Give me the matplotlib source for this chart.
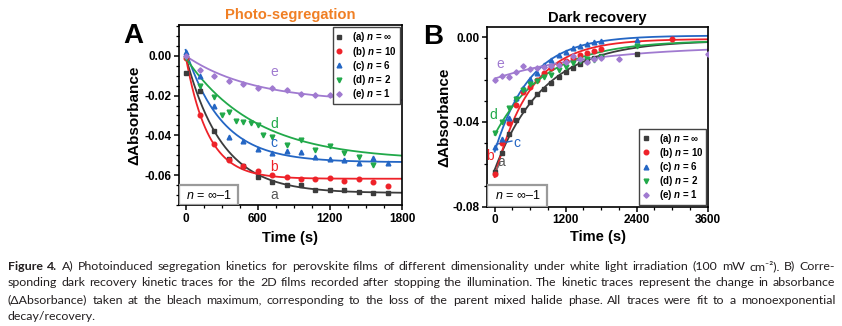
import numpy as np
import matplotlib
matplotlib.use('Agg')
import matplotlib.pyplot as plt
from matplotlib.patches import Rectangle
from matplotlib.ticker import AutoMinorLocator, FormatStrFormatter

plt.rcParams['font.family'] = ['Liberation Sans', 'DejaVu Sans']
plt.rcParams['mathtext.fontset'] = 'custom'
plt.rcParams['mathtext.it'] = 'Liberation Sans:italic'
plt.rcParams['mathtext.bf'] = 'Liberation Sans:italic:bold'
plt.rcParams['mathtext.rm'] = 'Liberation Sans'
plt.rcParams['axes.unicode_minus'] = False

# ---- panel A: photo-segregation under illumination ----
t_seg = [0, 120, 240, 360, 480, 600, 720, 840, 960, 1080, 1200, 1320, 1440, 1560, 1680]
t_seg_d = [0, 120, 240, 300, 360, 420, 480, 540, 600, 640, 720, 840, 960, 1080, 1200, 1320, 1440, 1560]
seg_a = [-0.0085, -0.0175, -0.0378, -0.0518, -0.0553, -0.0608, -0.0636, -0.0648, -0.0648,
         -0.0675, -0.0675, -0.0676, -0.0683, -0.0690, -0.0690]
seg_b = [-0.0010, -0.0300, -0.0442, -0.0525, -0.0556, -0.0578, -0.0597, -0.0607, -0.0617,
         -0.0617, -0.0612, -0.0627, -0.0620, -0.0632, -0.0652]
seg_c = [0.0017, -0.0100, -0.0250, -0.0410, -0.0430, -0.0470, -0.0488, -0.0480, -0.0485,
         -0.0511, -0.0518, -0.0525, -0.0538, -0.0515, -0.0538]
seg_d = [-0.0010, -0.0150, -0.0205, -0.0295, -0.0280, -0.0328, -0.0332, -0.0340, -0.0350,
         -0.0398, -0.0408, -0.0450, -0.0421, -0.0471, -0.0454, -0.0488, -0.0510, -0.0548]
seg_e = [0.0000, -0.0072, -0.0102, -0.0125, -0.0140, -0.0162, -0.0163, -0.0173, -0.0190,
         -0.0199, -0.0196, -0.0208, -0.0207, -0.0213, -0.0227]
# monoexponential fits: (start, plateau, tau in s)
seg_fits = [(0.0, -0.0690, 300), (0.0, -0.0618, 185), (0.003, -0.0535, 300),
            (-0.001, -0.0525, 580), (0.0, -0.0232, 560)]

# ---- panel B: dark recovery ----
t_rec = [0, 120, 240, 360, 480, 600, 720, 840, 960, 1080, 1200, 1320, 1440, 1560, 1680, 1800]
t_rec_a = t_rec + [2400]
t_rec_b = t_rec + [3000]
t_rec_c = t_rec + [2400]
t_rec_d = t_rec + [2400]
t_rec_e = t_rec + [2100, 3600]
rec_a = [-0.0638, -0.0545, -0.0459, -0.0393, -0.0345, -0.0306, -0.0269, -0.0242, -0.0216,
         -0.0190, -0.0165, -0.0145, -0.0128, -0.0113, -0.0100, -0.0090, -0.0081]
rec_b = [-0.0645, -0.0500, -0.0405, -0.0320, -0.0258, -0.0237, -0.0202, -0.0167, -0.0147,
         -0.0128, -0.0112, -0.0097, -0.0084, -0.0073, -0.0065, -0.0057, -0.0009]
rec_c = [-0.0518, -0.0480, -0.0380, -0.0285, -0.0240, -0.0195, -0.0171, -0.0130, -0.0107,
         -0.0084, -0.0068, -0.0052, -0.0041, -0.0033, -0.0024, -0.0016, -0.0013]
rec_d = [-0.0452, -0.0400, -0.0332, -0.0290, -0.0247, -0.0223, -0.0207, -0.0186, -0.0179,
         -0.0155, -0.0139, -0.0123, -0.0112, -0.0104, -0.0107, -0.0095, -0.0040]
rec_e = [-0.0200, -0.0183, -0.0186, -0.0165, -0.0135, -0.0148, -0.0147, -0.0142, -0.0135,
         -0.0130, -0.0118, -0.0088, -0.0105, -0.0115, -0.0104, -0.0100, -0.0104, -0.0081]
rec_fits = [(-0.0625, -0.0015, 830), (-0.0660, -0.0008, 600), (-0.0540, 0.0008, 600),
            (-0.0460, -0.0015, 850), (-0.0195, -0.0040, 1700)]

series_tags = ['a', 'b', 'c', 'd', 'e']
legend_labels = [r'(a) $\mathbf{n}$ = ∞', r'(b) $\mathbf{n}$ = 10', r'(c) $\mathbf{n}$ = 6',
                 r'(d) $\mathbf{n}$ = 2', r'(e) $\mathbf{n}$ = 1']
colors = ['#3c3c3c', '#ee2229', '#2466c4', '#21a94a', '#a07ad0']
markers = ['s', 'o', '^', 'v', 'D']
marker_sizes = [3.0, 3.3, 3.4, 3.4, 2.7]

caption_lines = [
    [('Figure', True), ('4.', True), ('A)', False)] + [(w, False) for w in
     'Photoinduced segregation kinetics for perovskite films of different dimensionality '
     'under white light irradiation (100 mW cm⁻²). B) Corre-'.split()],
    [(w, False) for w in 'sponding dark recovery kinetic traces for the 2D films recorded after '
     'stopping the illumination. The kinetic traces represent the change in absorbance'.split()],
    [(w, False) for w in '(ΔAbsorbance) taken at the bleach maximum, corresponding to the loss of '
     'the parent mixed halide phase. All traces were fit to a monoexponential'.split()],
    [(w, False) for w in 'decay/recovery.'.split()],
]

W, H = 842, 326


def mono_exp(t, start, plateau, tau):
    return plateau + (start - plateau) * np.exp(-t / tau)


def draw_panel(ax, times, values, fits, tmax):
    for i in range(5):
        ax.plot(times[i], values[i], ls='none', marker=markers[i], ms=marker_sizes[i],
                color=colors[i], label=legend_labels[i], zorder=3)
        tt = np.linspace(0, tmax, 400)
        ax.plot(tt, mono_exp(tt, *fits[i]), color=colors[i], lw=1.3, zorder=2)

    for side in ax.spines.values():
        side.set_linewidth(1.2)
    ax.xaxis.set_minor_locator(AutoMinorLocator(4))
    ax.yaxis.set_minor_locator(AutoMinorLocator(4))
    ax.yaxis.set_major_formatter(FormatStrFormatter('%.2f'))
    ax.tick_params(which='major', direction='out', length=3.5, width=1.1, labelsize=8.5, pad=2)
    ax.tick_params(which='minor', direction='out', length=2, width=0.9)
    for lab in ax.get_xticklabels() + ax.get_yticklabels():
        lab.set_fontweight('bold')
    ax.set_xlabel('Time (s)', fontsize=10.5, fontweight='bold')
    ax.set_ylabel('ΔAbsorbance', fontsize=11, fontweight='bold')


def n_box(ax, width, height):
    ax.add_patch(Rectangle((0, 0), width, height, transform=ax.transAxes, fc='white',
                           ec='#9a9a9a', lw=1.6, zorder=4))
    ax.text(width / 2, height / 2, r'$n$ = ∞–1', transform=ax.transAxes, ha='center',
            va='center', fontsize=9, zorder=5)


def add_legend(ax, loc, pad):
    leg = ax.legend(loc=loc, fontsize=7, frameon=True, fancybox=False, framealpha=1,
                    edgecolor='#444444', handlelength=0.8, handletextpad=0.9,
                    labelspacing=0.02, borderpad=0.3, borderaxespad=pad)
    leg.get_frame().set_linewidth(1.0)
    for txt in leg.get_texts():
        txt.set_fontweight('bold')


fig = plt.figure(figsize=(W / 100, H / 100), dpi=100)

# panel A
axA = fig.add_axes([179 / W, 1 - 205 / H, 223 / W, 180 / H])
draw_panel(axA, [t_seg, t_seg, t_seg, t_seg_d, t_seg],
           [seg_a, seg_b, seg_c, seg_d, seg_e], seg_fits, 1800)
axA.set_xlim(-55, 1800)
axA.set_ylim(-0.075, 0.0155)
axA.set_xticks([0, 600, 1200, 1800])
axA.set_yticks([0.0, -0.02, -0.04, -0.06])
axA.set_title('Photo-segregation', fontsize=10.6, fontweight='bold', color='#f07f24', pad=4)
axA.yaxis.set_label_coords(-0.17, 0.5)
axA.xaxis.set_label_coords(0.5, -0.145)
for tag, x, y, c in zip(series_tags, [735, 735, 735, 735, 735],
                        [-0.0700, -0.0560, -0.0440, -0.0345, -0.0083], colors):
    axA.text(x, y, tag, color='#555555' if tag == 'a' else c, fontsize=10,
             ha='center', va='center')
n_box(axA, 0.265, 0.111)
add_legend(axA, 'upper right', 0.25)

# panel B
axB = fig.add_axes([487.3 / W, 1 - 206.7 / H, 220.4 / W, 179.4 / H])
draw_panel(axB, [t_rec_a, t_rec_b, t_rec_c, t_rec_d, t_rec_e],
           [rec_a, rec_b, rec_c, rec_d, rec_e], rec_fits, 3600)
axB.set_xlim(-125, 3600)
axB.set_ylim(-0.08, 0.0047)
axB.set_xticks([0, 1200, 2400, 3600])
axB.set_yticks([0.0, -0.04, -0.08])
axB.set_title('Dark recovery', fontsize=10.6, fontweight='bold', color='black', pad=4)
axB.yaxis.set_label_coords(-0.165, 0.5)
axB.xaxis.set_label_coords(0.5, -0.13)
axB.text(112, -0.0591, 'a', color='#555555', fontsize=10, ha='center', va='center')
axB.text(-85, -0.0559, 'b', color=colors[1], fontsize=10, ha='center', va='center')
axB.text(380, -0.0498, 'c', color=colors[2], fontsize=10, ha='center', va='center')
axB.text(-22, -0.0368, 'd', color=colors[3], fontsize=10, ha='center', va='center')
axB.text(90, -0.0124, 'e', color=colors[4], fontsize=10, ha='center', va='center')
axB.plot([30, 290], [-0.0505, -0.0490], color=colors[2], lw=1.0)
axB.plot([40, 90], [-0.0622, -0.0595], color='#777777', lw=1.0)
n_box(axB, 0.272, 0.123)
add_legend(axB, 'lower right', 0.15)

# panel letters
fig.text(123 / W, 1 - 36 / H, 'A', fontsize=20, fontweight='bold', va='center')
fig.text(423 / W, 1 - 37 / H, 'B', fontsize=20, fontweight='bold', va='center')

# caption, set word by word so every full line spans the text block
renderer = fig.canvas.get_renderer()
cap_left, cap_right = 8, 835
cap_rows = [266, 283, 300, 316]
cap_family = ['Lato', 'DejaVu Sans']


def text_width(s, size, bold=False):
    t = fig.text(0, 0, s, fontsize=size, family=cap_family,
                 fontweight='bold' if bold else 'normal')
    wd = t.get_window_extent(renderer).width
    t.remove()
    return wd


# pick the size at which the widest full line just fills the block with normal spaces
base = 10.0
space = text_width('a a', base) - text_width('aa', base)
widest = max(sum(text_width(w, base, b) for w, b in ln) + space * (len(ln) - 1)
             for ln in caption_lines[:-1])
cap_size = base * (cap_right - cap_left) / widest * 0.985

for row, (words, ypix) in enumerate(zip(caption_lines, cap_rows)):
    items = []
    for w, bold in words:
        t = fig.text(0, 1 - ypix / H, w, fontsize=cap_size, family=cap_family,
                     fontweight='bold' if bold else 'normal', color='#231f20', va='center')
        items.append((t, t.get_window_extent(renderer).width))
    total = sum(wd for _, wd in items)
    if row < len(caption_lines) - 1:
        gap = (cap_right - cap_left - total) / (len(items) - 1)
    else:
        gap = space * cap_size / base
    x = cap_left
    for t, wd in items:
        t.set_x(x / W)
        x += wd + gap

fig.savefig('out.png', dpi=100)
